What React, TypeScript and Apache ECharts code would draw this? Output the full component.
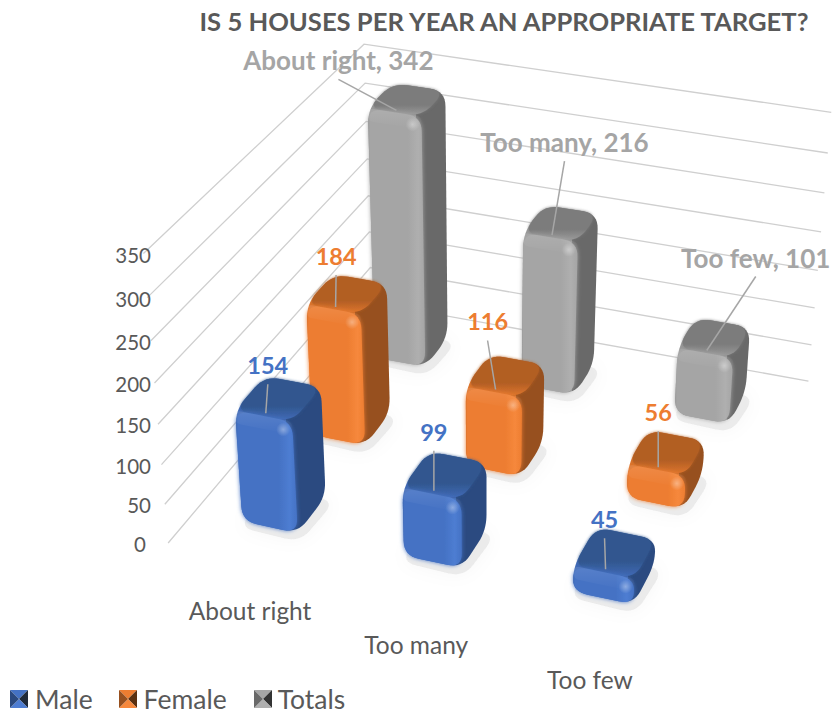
import React, { useEffect, useRef } from "react";
import * as echarts from "echarts";

const titleText = "IS 5 HOUSES PER YEAR AN APPROPRIATE TARGET?";
const categories = ["About right", "Too many", "Too few"];
const seriesNames = ["Male", "Female", "Totals"];
const maleValues = [154, 99, 45];
const femaleValues = [184, 116, 56];
const totalValues = [342, 216, 101];
const yTicks = [0, 50, 100, 150, 200, 250, 300, 350];

// appearance per series: front, side, top, label colour
const palette = [
  { front: "#4472C4", light: "#4E7DD2", side: "#2B4A80", top: "#31578F", rim: "#4069B5", label: "#4472C4", deep: "#1F2A3A" },
  { front: "#ED7D31", light: "#F6883C", side: "#97501F", top: "#B25E24", rim: "#DB742D", label: "#ED7D31", deep: "#5A3010" },
  { front: "#A5A5A5", light: "#AFAFAF", side: "#696969", top: "#7C7C7C", rim: "#999999", label: "#A5A5A5", deep: "#333333" },
];
// hand-placed data labels: offset from the leader's foot on the bar
const labelOffsets = [
  [[2, -48], [0, -59], [-1, -50]],
  [[0.5, -51], [-8, -68], [0, -55]],
  [[-58, -50], [12.5, -93], [49, -93]],
];
const categoryLabelOffsets = [[2, 50], [3, 48], [4, 45]];

// calibration of the projection: cube corners (u, depth, height) -> screen
const cubeCorners = [
  [0, 0, 0, 167, 543],
  [0, 1, 0, 373, 303],
  [1, 1, 0, 808, 380],
  [1, 0, 0, 675, 654],
  [0, 0, 1, 145, 253],
  [0, 1, 1, 362, 44],
  [1, 1, 1, 832, 113],
];

const GW = 300;
const GH = 300;
const U_SHIFT = 0;
const V0 = 0.165;
const DV = 0.33;
const HU = 0.058;
const HV = 0.066;
const BAR_K = 0.995;
const BAR_TOP = 0.016;
const BAR_LIFT = 0.019;
const FONT = "Lato, Carlito, sans-serif";
const TEXT = "#595959";

function solve(A: number[][], b: number[]) {
  const n = b.length;
  const M = A.map((r, i) => [...r, b[i]]);
  for (let c = 0; c < n; c++) {
    let p = c;
    for (let r = c + 1; r < n; r++) if (Math.abs(M[r][c]) > Math.abs(M[p][c])) p = r;
    [M[c], M[p]] = [M[p], M[c]];
    for (let r = 0; r < n; r++) {
      if (r === c) continue;
      const f = M[r][c] / M[c][c];
      for (let k = c; k <= n; k++) M[r][k] -= f * M[c][k];
    }
  }
  return M.map((r, i) => r[n] / r[i]);
}

function fitProjection() {
  const rows: number[][] = [];
  const rhs: number[] = [];
  for (const [X, Y, Z, sx, sy] of cubeCorners) {
    const x = sx / 1000;
    const y = sy / 1000;
    rows.push([X, Y, Z, 1, 0, 0, 0, 0, -x * X, -x * Y, -x * Z]);
    rhs.push(x);
    rows.push([0, 0, 0, 0, X, Y, Z, 1, -y * X, -y * Y, -y * Z]);
    rhs.push(y);
  }
  const N = 11;
  const A: number[][] = [];
  const b: number[] = [];
  for (let i = 0; i < N; i++) {
    A.push(new Array(N).fill(0));
    b.push(0);
    rows.forEach((r, k) => {
      for (let j = 0; j < N; j++) A[i][j] += r[i] * r[j];
      b[i] += r[i] * rhs[k];
    });
  }
  return solve(A, b);
}
const PM = fitProjection();
function project(u: number, v: number, h: number): number[] {
  const w = PM[8] * u + PM[9] * v + PM[10] * h + 1;
  return [
    (1000 * (PM[0] * u + PM[1] * v + PM[2] * h + PM[3])) / w,
    (1000 * (PM[4] * u + PM[5] * v + PM[6] * h + PM[7])) / w,
  ];
}

function rounded(pts: number[][], r: number) {
  const out: number[][] = [];
  const n = pts.length;
  for (let i = 0; i < n; i++) {
    const p = pts[i];
    const a = pts[(i + n - 1) % n];
    const b = pts[(i + 1) % n];
    const la = Math.hypot(a[0] - p[0], a[1] - p[1]);
    const lb = Math.hypot(b[0] - p[0], b[1] - p[1]);
    const da = Math.min(r, la * 0.48) / la;
    const db = Math.min(r, lb * 0.48) / lb;
    const s = [p[0] + (a[0] - p[0]) * da, p[1] + (a[1] - p[1]) * da];
    const e = [p[0] + (b[0] - p[0]) * db, p[1] + (b[1] - p[1]) * db];
    for (let k = 0; k <= 8; k++) {
      const t = k / 8;
      const m = 1 - t;
      out.push([
        m * m * s[0] + 2 * m * t * p[0] + t * t * e[0],
        m * m * s[1] + 2 * m * t * p[1] + t * t * e[1],
      ]);
    }
  }
  return out;
}

function shift(p: number[], dx: number, dy: number) {
  return [p[0] + dx, p[1] + dy];
}

function barSeries(name: string, s: number, values: number[]) {
  const c = palette[s];
  return {
    name,
    type: "custom",
    coordinateSystem: "cartesian2d",
    z: 10 - s,
    itemStyle: { color: c.front },
    data: values.map((v, i) => [i, v]),
    renderItem: (_: any, api: any) => {
      const i = api.value(0);
      const val = api.value(1);
      const pt = api.coord([i, val]);
      const u = pt[0] / GW + U_SHIFT;
      const h = ((GH - pt[1]) / GH) * BAR_K - BAR_TOP;
      const v = V0 + s * DV;
      const FLB = project(u - HU, v - HV, BAR_LIFT);
      const FRB = project(u + HU, v - HV, BAR_LIFT);
      const BRB = project(u + HU, v + HV, BAR_LIFT);
      const BLB = project(u - HU, v + HV, BAR_LIFT);
      const FLT = project(u - HU, v - HV, h);
      const FRT = project(u + HU, v - HV, h);
      const BRT = project(u + HU, v + HV, h);
      const BLT = project(u - HU, v + HV, h);
      const R = 15;
      const foot = project(u, v - 0.85 * HV, h);
      const off = labelOffsets[s][i];
      const lx = foot[0] + off[0];
      const ly = foot[1] + off[1];
      const text = s === 2 ? `${categories[i]}, ${val}` : `${val}`;
      const strip = 13;
      const minX = Math.min(FLB[0], FLT[0]);
      const maxX = Math.max(BRB[0], BRT[0]);
      const edge = Math.min(0.98, Math.max(0.02, (FRT[0] - 6 - minX) / (maxX - minX)));
      return {
        type: "group",
        children: [
          {
            type: "polygon",
            shape: { points: rounded([shift(FLB, -3, 6), shift(FRB, 2, 9), shift(BRB, 9, 5), BLB], R) },
            style: { fill: "rgba(90,90,90,0.10)", shadowBlur: 18, shadowColor: "rgba(90,90,90,0.35)" },
          },
          {
            type: "polygon",
            shape: { points: rounded([FLB, FRB, BRB, BRT, BLT, FLT], R) },
            style: {
              fill: new echarts.graphic.LinearGradient(0, 0, 1, 0, [
                { offset: 0, color: c.rim },
                { offset: edge, color: c.rim },
                { offset: edge, color: c.side },
                { offset: 1, color: c.side },
              ]),
            },
          },
          {
            type: "polygon",
            shape: { points: rounded([FLT, FRT, BRT, BLT], R) },
            style: {
              shadowBlur: 3,
              shadowColor: c.top,
              fill: new echarts.graphic.LinearGradient(0, 0, 0, 1, [
                { offset: 0, color: c.top },
                { offset: 0.68, color: c.top },
                { offset: 1, color: c.rim },
              ]),
            },
          },
          {
            type: "polygon",
            shape: { points: rounded([FLB, FRB, FRT, FLT], R) },
            style: {
              shadowBlur: 4,
              shadowColor: c.front,
              fill: new echarts.graphic.LinearGradient(0, 0, 1, 0, [
                { offset: 0, color: c.rim },
                { offset: 0.03, color: c.front },
                { offset: 0.7, color: c.front },
                { offset: 0.88, color: c.light },
                { offset: 1, color: c.front },
              ]),
            },
          },
          {
            type: "polygon",
            shape: {
              points: rounded([FLT, FRT, shift(FRT, 0, strip), shift(FLT, 0, strip)], 6),
            },
            style: {
              fill: new echarts.graphic.LinearGradient(0, 0, 0, 1, [
                { offset: 0, color: "rgba(255,255,255,0.10)" },
                { offset: 1, color: "rgba(255,255,255,0)" },
              ]),
            },
          },
          {
            type: "circle",
            shape: { cx: FRT[0] - 9, cy: FRT[1] + 8, r: 7 },
            style: {
              fill: new echarts.graphic.RadialGradient(0.5, 0.5, 0.5, [
                { offset: 0, color: "rgba(255,255,255,0.35)" },
                { offset: 1, color: "rgba(255,255,255,0)" },
              ]),
            },
          },
          {
            type: "line",
            shape: { x1: lx, y1: ly + 19, x2: foot[0], y2: foot[1] },
            style: { stroke: "#A6A6A6", lineWidth: 1.5 },
          },
          {
            type: "text",
            style: {
              x: lx,
              y: ly,
              text,
              fill: c.label,
              font: `bold ${s === 2 ? 26 : 23.5}px ${FONT}`,
              align: "center",
              verticalAlign: "middle",
            },
          },
        ],
      };
    },
  };
}

const wallSeries = {
  name: "walls",
  type: "custom",
  coordinateSystem: "cartesian2d",
  z: 1,
  data: yTicks.map((t) => [0, t]),
  renderItem: (_: any, api: any) => {
    const t = api.value(1);
    const h = (GH - api.coord([0, t])[1]) / GH;
    const a = project(0, 0, h);
    const b = project(0, 1, h);
    const c = project(1, 1, h);
    return {
      type: "group",
      children: [
        {
          type: "polyline",
          shape: { points: [a, b, c] },
          style: { stroke: "#CFCFCF", lineWidth: 1.3, fill: "none" },
        },
        {
          type: "text",
          style: {
            x: t === 0 ? 146 : 151,
            y: a[1] + 1,
            text: `${t}`,
            fill: TEXT,
            font: `20.5px ${FONT}`,
            align: "right",
            verticalAlign: "middle",
          },
        },
      ],
    };
  },
};

const categorySeries = {
  name: "categoryLabels",
  type: "custom",
  coordinateSystem: "cartesian2d",
  z: 1,
  data: categories.map((_, i) => [i, 0]),
  renderItem: (_: any, api: any) => {
    const i = api.value(0);
    const pt = api.coord([i, 0]);
    const p = project(pt[0] / GW, 0, 0);
    const off = categoryLabelOffsets[i];
    return {
      type: "text",
      style: {
        x: p[0] + off[0],
        y: p[1] + off[1],
        text: categories[i],
        fill: TEXT,
        font: `24.5px ${FONT}`,
        align: "center",
        verticalAlign: "middle",
      },
    };
  },
};

function legendIcon(x: number, s: number) {
  const c = palette[s];
  const y = 690;
  const d = 18;
  const m = [x + d / 2, y + d / 2];
  const tl = [x, y];
  const tr = [x + d, y];
  const br = [x + d, y + d];
  const bl = [x, y + d];
  const tri = (a: number[], b: number[], fill: string) => ({
    type: "polygon",
    shape: { points: [a, b, m] },
    style: { fill },
  });
  return {
    type: "group",
    children: [
      tri(tl, tr, c.front),
      tri(tr, br, c.deep),
      tri(br, bl, c.light),
      tri(bl, tl, c.side),
    ],
  };
}

export default function App() {
  const ref = useRef<HTMLDivElement>(null);
  useEffect(() => {
    const chart = echarts.init(ref.current!, undefined, { renderer: "svg" });
    chart.setOption({
      animation: false,
      backgroundColor: "#FFFFFF",
      title: {
        text: titleText,
        right: 16,
        top: 3,
        textStyle: { fontFamily: FONT, fontWeight: "bold", fontSize: 25.6, color: TEXT },
      },
      legend: {
        data: seriesNames,
        left: 1,
        top: 680,
        icon: "rect",
        itemWidth: 24,
        itemHeight: 18,
        itemGap: 22,
        itemStyle: { opacity: 0 },
        textStyle: { fontFamily: FONT, fontSize: 26.5, color: TEXT },
      },
      grid: { left: 0, top: 0, width: GW, height: GH },
      xAxis: { type: "category", data: categories, show: false },
      yAxis: { type: "value", min: 0, max: 350, interval: 50, show: false },
      graphic: [legendIcon(10, 0), legendIcon(119, 1), legendIcon(254, 2)],
      series: [
        wallSeries,
        categorySeries,
        barSeries(seriesNames[0], 0, maleValues),
        barSeries(seriesNames[1], 1, femaleValues),
        barSeries(seriesNames[2], 2, totalValues),
      ],
    });
    return () => chart.dispose();
  }, []);
  return <div ref={ref} style={{ position: "absolute", left: 0, top: 0, width: 833, height: 715 }} />;
}
